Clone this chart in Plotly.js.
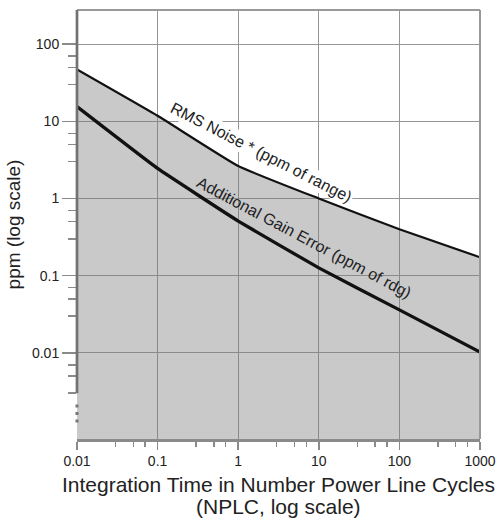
<!DOCTYPE html>
<html><head><meta charset="utf-8">
<script src="https://cdn.plot.ly/plotly-3.0.1.min.js"></script>
<style>html,body{margin:0;padding:0;background:#fff;}</style>
</head><body><div id="chart" style="width:499px;height:522px;"></div>
<script>
// ---- data ----
const nplc = [0.01, 0.1, 1, 10, 100, 1000];
const rmsNoise = [47, 11.8, 2.64, 1.0, 0.40, 0.173];      // ppm of range
const gainError = [15.5, 2.45, 0.51, 0.126, 0.036, 0.0102]; // ppm of rdg

const xTickVals = [0.01, 0.1, 1, 10, 100, 1000];
const xTickText = ['0.01', '0.1', '1', '10', '100', '1000'];
const yTickVals = [0.01, 0.1, 1, 10, 100];
const yTickText = ['0.01', '0.1', '1', '10', '100'];
const xMinorVals = [0.03, 0.05, 0.07, 0.3, 0.5, 0.7, 3, 5, 7, 30, 50, 70, 300, 500, 700];
const yMinorVals = [0.003, 0.005, 0.007, 0.03, 0.05, 0.07, 0.3, 0.5, 0.7, 3, 5, 7, 30, 50, 70];

const rmsLabel = 'RMS Noise * (ppm of range)';
const gainLabel = 'Additional Gain Error (ppm of rdg)';
const xTitle1 = 'Integration Time in Number Power Line Cycles';
const xTitle2 = '(NPLC, log scale)';
const yTitle = 'ppm (log scale)';

// ---- layout ----
const xRange = [-2, 3];
const yRange = [-3.117, 2.443];
const axisBreakTop = 0.003;

const traces = [
  {x: nplc, y: rmsNoise, type: 'scatter', mode: 'lines', fill: 'tozeroy',
   fillcolor: 'rgba(120,120,123,0.4)', line: {color: '#111', width: 2.2, shape: 'spline', smoothing: 0.4}, hoverinfo: 'skip'},
  {x: nplc, y: gainError, type: 'scatter', mode: 'lines',
   line: {color: '#111', width: 3.3, shape: 'spline', smoothing: 0.3}, hoverinfo: 'skip'}
];

const font = 'Liberation Sans, Arial, Helvetica, sans-serif';

const layout = {
  width: 499, height: 522,
  margin: {l: 77, r: 19, t: 10, b: 83, pad: 0},
  paper_bgcolor: '#fff', plot_bgcolor: '#fff',
  showlegend: false,
  font: {family: font, color: '#333'},
  xaxis: {
    type: 'log', range: xRange, fixedrange: true,
    tickmode: 'array', tickvals: xTickVals, ticktext: xTickText,
    ticks: 'outside', ticklen: 8, tickwidth: 1.5, tickcolor: '#8a8a8a',
    showgrid: true, gridcolor: '#969696', gridwidth: 1.3,
    showline: true, linecolor: '#8a8a8a', linewidth: 2.6, zeroline: false,
    tickfont: {size: 14, color: '#222', family: font},
    minor: {tickmode: 'array', tickvals: xMinorVals, ticks: 'outside', ticklen: 5, tickwidth: 1.5, tickcolor: '#8a8a8a', showgrid: false},
    title: {text: xTitle1, font: {size: 21, color: '#222', family: font}, standoff: 9}
  },
  yaxis: {
    type: 'log', range: yRange, fixedrange: true,
    tickmode: 'array', tickvals: yTickVals, ticktext: yTickText,
    ticks: 'outside', ticklen: 14, tickwidth: 1.5, tickcolor: '#8a8a8a',
    showgrid: true, gridcolor: '#969696', gridwidth: 1.3,
    showline: false, zeroline: false,
    tickfont: {size: 14, color: '#222', family: font},
    minor: {tickmode: 'array', tickvals: yMinorVals, ticks: 'outside', ticklen: 8, tickwidth: 1.5, tickcolor: '#8a8a8a', showgrid: false},
    title: {text: yTitle, font: {size: 19, color: '#222', family: font}, standoff: 6}
  },
  shapes: [
    {type: 'line', xref: 'paper', yref: 'paper', x0: 0, x1: 1, y0: 1, y1: 1, line: {color: '#999', width: 2}},
    {type: 'line', xref: 'paper', yref: 'paper', x0: 1, x1: 1, y0: 0, y1: 1, line: {color: '#999', width: 2}},
    {type: 'line', xref: 'paper', yref: 'y', x0: 0, x1: 0, y0: axisBreakTop, y1: Math.pow(10, yRange[1]), line: {color: '#727272', width: 2.7}},
    {type: 'line', xref: 'paper', yref: 'y', x0: 0, x1: 0, y0: Math.pow(10, -2.67), y1: Math.pow(10, -2.95), line: {color: '#777', width: 3, dash: '3px,4.5px'}}
  ],
  annotations: [
    {xref: 'x', yref: 'y', x: 0.29, y: 0.602, text: rmsLabel, showarrow: false, textangle: 27,
     font: {size: 16, color: '#222', family: font}, bgcolor: '#fff', borderpad: 1},
    {xref: 'x', yref: 'y', x: 0.815, y: -0.507, text: gainLabel, showarrow: false, textangle: 28,
     font: {size: 16, color: '#222', family: font}},
    {xref: 'paper', yref: 'paper', x: 0.5, y: -0.158, yanchor: 'middle', text: xTitle2, showarrow: false,
     font: {size: 21, color: '#222', family: font}}
  ]
};

Plotly.newPlot('chart', traces, layout, {staticPlot: true, displayModeBar: false});
</script></body></html>
